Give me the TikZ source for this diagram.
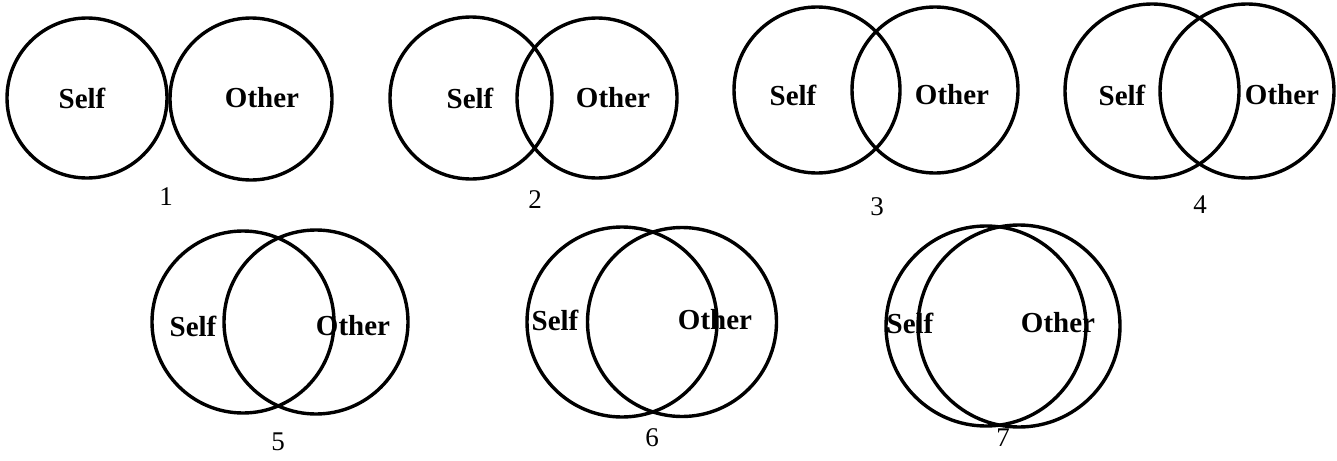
\documentclass[tikz,border=0pt]{standalone}
\usepackage{fontspec}
\setmainfont{Liberation Serif}
\begin{document}
\begin{tikzpicture}[x=1pt,y=-1pt,
  ring/.style={circle,draw,line width=3.4pt,inner sep=0pt,minimum size=#1},
  lbl/.style={font=\fontsize{29}{29}\selectfont\bfseries,inner sep=0pt,anchor=center},
  num/.style={font=\fontsize{27}{27}\selectfont,inner sep=0pt,anchor=center}]
\useasboundingbox (0,0) rectangle (1337,460);
% 1
\node[ring=160pt] (s1) at (87,98) {};
\node[ring=162pt] (o1) at (251,99) {};
\node[lbl] (ts1) at (82,98) {Self};
\node[lbl] (to1) at (262,98) {Other};
\node[num] (n1) at (166,197) {1};
% 2
\node[ring=162pt] (s2) at (471,98) {};
\node[ring=160pt] (o2) at (597,98) {};
\node[lbl] (ts2) at (470,98) {Self};
\node[lbl] (to2) at (613,98) {Other};
\node[num] (n2) at (535,200) {2};
% 3
\node[ring=166pt] (s3) at (817,90) {};
\node[ring=166pt] (o3) at (935,90) {};
\node[lbl] (ts3) at (793,95) {Self};
\node[lbl] (to3) at (952,95) {Other};
\node[num] (n3) at (877,207) {3};
% 4
\node[ring=174pt] (s4) at (1152,91) {};
\node[ring=174pt] (o4) at (1247,91) {};
\node[lbl] (ts4) at (1122,95) {Self};
\node[lbl] (to4) at (1282,95) {Other};
\node[num] (n4) at (1200,205) {4};
% 5
\node[ring=182pt] (s5) at (243,322) {};
\node[ring=184pt] (o5) at (316,322) {};
\node[lbl] (ts5) at (193,326) {Self};
\node[lbl] (to5) at (353,326) {Other};
\node[num] (n5) at (278,442) {5};
% 6
\node[ring=190pt] (s6) at (622,322) {};
\node[ring=189pt] (o6) at (682,322) {};
\node[lbl] (ts6) at (555,320) {Self};
\node[lbl] (to6) at (715,320) {Other};
\node[num] (n6) at (652,438) {6};
% 7
\node[ring=200pt] (s7) at (986,326) {};
\node[ring=202pt] (o7) at (1019,326) {};
\node[lbl] (ts7) at (910,323) {Self};
\node[lbl] (to7) at (1058,323) {Other};
\node[num] (n7) at (1003,438) {7};
\end{tikzpicture}
\end{document}
